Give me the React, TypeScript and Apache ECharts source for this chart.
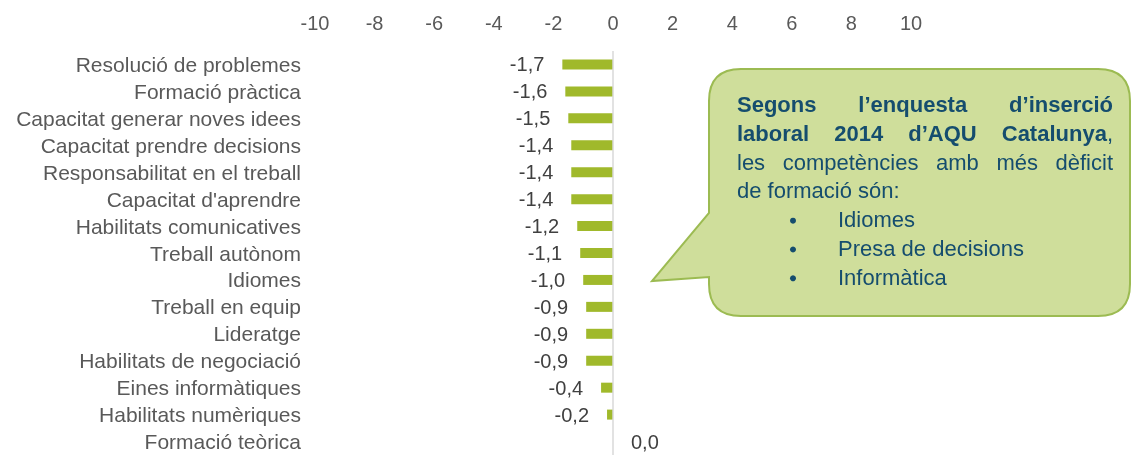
import React, { useEffect, useRef } from "react";
import * as echarts from "echarts";

const categories = [
  "Resolució de problemes",
  "Formació pràctica",
  "Capacitat generar noves idees",
  "Capacitat prendre decisions",
  "Responsabilitat en el treball",
  "Capacitat d'aprendre",
  "Habilitats comunicatives",
  "Treball autònom",
  "Idiomes",
  "Treball en equip",
  "Lideratge",
  "Habilitats de negociació",
  "Eines informàtiques",
  "Habilitats numèriques",
  "Formació teòrica",
];
const values = [-1.7, -1.6, -1.5, -1.4, -1.4, -1.4, -1.2, -1.1, -1.0, -0.9, -0.9, -0.9, -0.4, -0.2, 0.0];

const axisMin = -10;
const axisMax = 10;
const axisInterval = 2;

type Seg = { t: string; b: boolean };
const calloutJustified: Seg[][][] = [
  [[{ t: "Segons", b: true }], [{ t: "l’enquesta", b: true }], [{ t: "d’inserció", b: true }]],
  [
    [{ t: "laboral", b: true }],
    [{ t: "2014", b: true }],
    [{ t: "d’AQU", b: true }],
    [{ t: "Catalunya", b: true }, { t: ",", b: false }],
  ],
  [[{ t: "les", b: false }], [{ t: "competències", b: false }], [{ t: "amb", b: false }], [{ t: "més", b: false }], [{ t: "dèficit", b: false }]],
];
const calloutPlain = "de formació són:";
const calloutBullets = ["Idiomes", "Presa de decisions", "Informàtica"];

const FONT = '"Liberation Sans", Arial, sans-serif';
const TEXT_BLUE = "#154D6E";

const calloutPath =
  "M 741 69 L 1098 69 Q 1130 69 1130 101 L 1130 284 Q 1130 316 1098 316 L 741 316 Q 709 316 709 284 L 709 277 L 652 281 L 709 213 L 709 101 Q 709 69 741 69 Z";

let registered = false;

export default function App() {
  const ref = useRef<HTMLDivElement>(null);

  useEffect(() => {
    if (!ref.current) return;
    if (!registered) {
      echarts.graphic.registerShape("callout", echarts.graphic.extendPath(calloutPath, {}) as any);
      registered = true;
    }
    const chart = echarts.init(ref.current, null, { renderer: "svg" });

    const canvas = document.createElement("canvas");
    const ctx = canvas.getContext("2d")!;
    const fs = 22;
    const measure = (s: Seg) => {
      ctx.font = `${s.b ? "bold " : ""}${fs}px ${FONT}`;
      return ctx.measureText(s.t).width;
    };

    const x0 = 737;
    const x1 = 1113;
    const lineY = (i: number) => 104.5 + i * 28.8;
    const texts: any[] = [];
    calloutJustified.forEach((words, li) => {
      const widths = words.map((w) => w.reduce((a, s) => a + measure(s), 0));
      const total = widths.reduce((a, b) => a + b, 0);
      const gap = (x1 - x0 - total) / (words.length - 1);
      let x = x0;
      words.forEach((w, wi) => {
        let sx = x;
        w.forEach((s) => {
          texts.push({
            type: "text",
            x: sx,
            y: lineY(li),
            style: {
              text: s.t,
              font: `${s.b ? "bold " : ""}${fs}px ${FONT}`,
              fill: TEXT_BLUE,
              textAlign: "left",
              textVerticalAlign: "middle",
            },
          });
          sx += measure(s);
        });
        x += widths[wi] + gap;
      });
    });
    texts.push({
      type: "text",
      x: x0,
      y: lineY(3),
      style: { text: calloutPlain, font: `${fs}px ${FONT}`, fill: TEXT_BLUE, textAlign: "left", textVerticalAlign: "middle" },
    });
    calloutBullets.forEach((b, i) => {
      texts.push({
        type: "circle",
        shape: { cx: 793, cy: lineY(4 + i) + 1, r: 3 },
        style: { fill: TEXT_BLUE },
      });
      texts.push({
        type: "text",
        x: 838,
        y: lineY(4 + i),
        style: { text: b, font: `${fs}px ${FONT}`, fill: TEXT_BLUE, textAlign: "left", textVerticalAlign: "middle" },
      });
    });

    const fmt = (v: number) => v.toFixed(1).replace(".", ",");

    chart.setOption({
      animation: false,
      grid: { left: 315, right: 223, top: 51, height: 407, containLabel: false },
      xAxis: {
        type: "value",
        position: "top",
        min: axisMin,
        max: axisMax,
        interval: axisInterval,
        axisLine: { show: false },
        axisTick: { show: false },
        splitLine: { show: false },
        axisLabel: { color: "#595959", fontSize: 20, fontFamily: FONT, margin: 18 },
      },
      yAxis: {
        type: "category",
        inverse: true,
        data: categories,
        axisLine: { show: false, onZero: false },
        axisTick: { show: false },
        axisLabel: { color: "#595959", fontSize: 21, fontFamily: FONT, margin: 14, interval: 0 },
      },
      series: [
        {
          type: "bar",
          barWidth: 10,
          data: values.map((v) => (v === 0 ? { value: v, label: { position: "right" } } : v)),
          itemStyle: { color: "#A0B92B" },
          label: {
            show: true,
            position: "left",
            distance: 18,
            color: "#404040",
            fontSize: 20,
            fontFamily: FONT,
            formatter: (p: any) => fmt(p.value),
          },
          markLine: {
            silent: true,
            symbol: "none",
            label: { show: false },
            lineStyle: { color: "#D9D9D9", width: 1.5, type: "solid" },
            data: [{ xAxis: 0 }],
          },
        },
      ],
      graphic: [
        {
          type: "callout",
          x: 0,
          y: 0,
          style: { fill: "#CFDE9B", stroke: "#9CBB52", lineWidth: 2 },
          z: 10,
        },
        ...texts.map((t) => ({ ...t, z: 11 })),
      ],
    });

    return () => chart.dispose();
  }, []);

  return <div ref={ref} style={{ position: "fixed", left: 0, top: 0, width: 1134, height: 455 }} />;
}
